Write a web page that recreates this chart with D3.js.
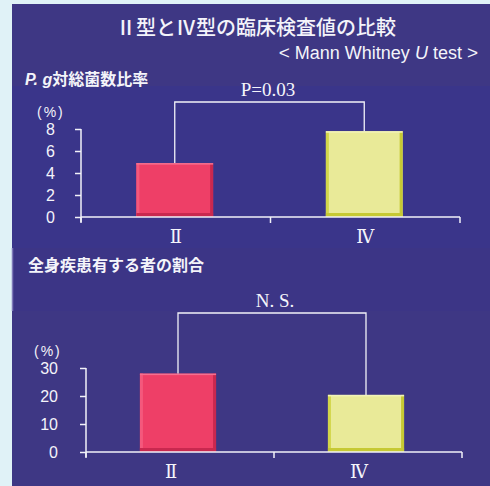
<!DOCTYPE html>
<html>
<head>
<meta charset="utf-8">
<script src="https://cdn.jsdelivr.net/npm/d3@7"></script>
<style>
  html, body { margin: 0; padding: 0; background: #e0f2f7; }
  svg { display: block; }
</style>
</head>
<body>
<svg id="chart" width="490" height="486"></svg>
<script>
// data
var categories = ['Ⅱ', 'Ⅳ'];
var pgValues = [4.9, 7.8];           // P. g対総菌数比率 (%)
var pgTicks = [0, 2, 4, 6, 8];
var sysValues = [28, 20.4];          // 全身疾患有する者の割合 (%)
var sysTicks = [0, 10, 20, 30];
var pgLabel = 'P=0.03';
var sysLabel = 'N. S.';

var svg = d3.select('#chart');
var jp = '"Noto Sans CJK JP", "Noto Sans", sans-serif';
var sans = '"Liberation Sans", Arial, sans-serif';
var serif = '"Liberation Serif", "DejaVu Serif", "Noto Sans CJK JP", serif';

// panels
svg.append('rect').attr('x', 12).attr('y', 4).attr('width', 478).attr('height', 482)
  .attr('fill', '#3e3784');
svg.append('rect').attr('x', 12).attr('y', 86).attr('width', 478).attr('height', 162)
  .attr('fill', '#3a358a');
svg.append('rect').attr('x', 12).attr('y', 248).attr('width', 478).attr('height', 63)
  .attr('fill', '#3c3586');
svg.append('line').attr('x1', 12.5).attr('x2', 12.5).attr('y1', 248).attr('y2', 311)
  .attr('stroke', '#7e79b8').attr('stroke-width', 1.5);

// titles
svg.append('text').attr('x', 256).attr('y', 35).attr('text-anchor', 'middle')
  .attr('font-family', jp).attr('font-size', 20).attr('font-weight', 500)
  .attr('fill', '#f4f4fa').text('Ⅱ型とⅣ型の臨床検査値の比較');

var sub = svg.append('text').attr('x', 478).attr('y', 59).attr('text-anchor', 'end')
  .attr('font-family', sans).attr('font-size', 18).attr('fill', '#f4f4fa');
sub.append('tspan').attr('font-size', 19).text('<');
sub.append('tspan').attr('dx', 5).text('Mann Whitney ');
sub.append('tspan').attr('font-style', 'italic').text('U');
sub.append('tspan').text(' test');
sub.append('tspan').attr('dx', 5).attr('font-size', 19).text('>');

var t1 = svg.append('text').attr('x', 25).attr('y', 85)
  .attr('font-family', jp).attr('font-size', 16).attr('font-weight', 'bold').attr('fill', '#f4f4fa');
t1.append('tspan').attr('font-family', sans).attr('font-style', 'italic').text('P. g');
t1.append('tspan').text('対総菌数比率');

svg.append('text').attr('x', 28).attr('y', 271)
  .attr('font-family', jp).attr('font-size', 16).attr('font-weight', 'bold')
  .attr('fill', '#f4f4fa').text('全身疾患有する者の割合');

function drawChart(opt) {
  var g = svg.append('g');

  var y = d3.scaleLinear().domain(opt.domain).range([opt.y0, opt.y1]);
  var x = d3.scaleBand().domain(categories).range([opt.x0, opt.x1]);
  var cx = function(c) { return x(c) + x.bandwidth() / 2; };
  var barW = x.bandwidth() * 0.405;

  // bars with a simple bevel
  categories.forEach(function(c, i) {
    var v = opt.values[i], col = opt.colors[i];
    var bx = cx(c) - barW / 2 + opt.barShift, by = y(v), bh = y(0) - y(v);
    g.append('rect').attr('x', bx).attr('y', by).attr('width', barW).attr('height', bh)
      .attr('fill', col.main);
    g.append('rect').attr('x', bx).attr('y', by).attr('width', 3).attr('height', bh)
      .attr('fill', col.left);
    g.append('rect').attr('x', bx + barW - 3).attr('y', by).attr('width', 3).attr('height', bh)
      .attr('fill', col.dark);
    g.append('rect').attr('x', bx).attr('y', y(0) - 4).attr('width', barW).attr('height', 4)
      .attr('fill', col.dark);
    g.append('rect').attr('x', bx).attr('y', by).attr('width', barW).attr('height', 1.5)
      .attr('fill', col.light);
  });

  // y axis
  var ya = g.append('g').attr('transform', 'translate(' + opt.x0 + ',0)')
    .call(d3.axisLeft(y).tickValues(opt.ticks).tickSize(6).tickSizeOuter(0).tickPadding(opt.tickPad));
  ya.select('.domain').remove();
  ya.selectAll('line').attr('stroke', '#f2f2f8').attr('stroke-width', 1.5);
  ya.selectAll('text').attr('fill', '#f4f4fa').attr('font-family', sans).attr('font-size', 16);
  g.append('line').attr('x1', opt.x0).attr('x2', opt.x0)
    .attr('y1', y(opt.domain[1])).attr('y2', y(0) + 5)
    .attr('stroke', '#f2f2f8').attr('stroke-width', 1.5);

  g.append('text').attr('x', opt.pctX).attr('y', y(opt.domain[1]) - 12)
    .attr('font-family', sans).attr('font-size', 14).attr('letter-spacing', 2)
    .attr('fill', '#f4f4fa').text('(%)');

  // x axis with ticks at band edges
  g.append('line').attr('x1', opt.x0).attr('x2', opt.x1).attr('y1', y(0)).attr('y2', y(0))
    .attr('stroke', '#f2f2f8').attr('stroke-width', 1.5);
  var edges = [opt.x0].concat(categories.map(function(c) { return x(c) + x.bandwidth(); }));
  edges.forEach(function(e) {
    g.append('line').attr('x1', e).attr('x2', e).attr('y1', y(0)).attr('y2', y(0) + 6)
      .attr('stroke', '#f2f2f8').attr('stroke-width', 1.5);
  });
  categories.forEach(function(c) {
    g.append('text').attr('x', cx(c) + opt.labelShift).attr('y', y(0) + 26)
      .attr('text-anchor', 'middle').attr('font-family', serif).attr('font-size', 18)
      .attr('fill', '#f4f4fa').text(c);
  });

  // significance bracket
  var xa = cx(categories[0]) + opt.barShift, xb = cx(categories[1]) + opt.barShift;
  g.append('path')
    .attr('d', 'M' + xa + ',' + y(opt.values[0]) + 'V' + opt.bracketY + 'H' + xb + 'V' + y(opt.values[1]))
    .attr('fill', 'none').attr('stroke', '#f2f2f8').attr('stroke-width', 1.3);
  g.append('text').attr('x', opt.sigX).attr('y', opt.bracketY - 6)
    .attr('text-anchor', 'middle').attr('font-family', serif).attr('font-size', 19)
    .attr('fill', '#f4f4fa').text(opt.sig);
}

var red = { main: '#ee3f67', left: '#f4587c', dark: '#c9284f', light: '#f6708f' };
var yellow = { main: '#e9ea98', left: '#d3d64a', dark: '#c6c934', light: '#f2f3b8' };

drawChart({
  values: pgValues, ticks: pgTicks, domain: [0, 8],
  y0: 217, y1: 129, x0: 81, x1: 460, tickPad: 20, pctX: 37,
  colors: [red, yellow], barShift: -1, labelShift: 0,
  bracketY: 102, sig: pgLabel, sigX: 268
});

drawChart({
  values: sysValues, ticks: sysTicks, domain: [0, 30],
  y0: 452, y1: 368, x0: 86, x1: 462, tickPad: 22, pctX: 34,
  colors: [red, yellow], barShift: -2, labelShift: -9,
  bracketY: 313, sig: sysLabel, sigX: 275
});
</script>
</body>
</html>
